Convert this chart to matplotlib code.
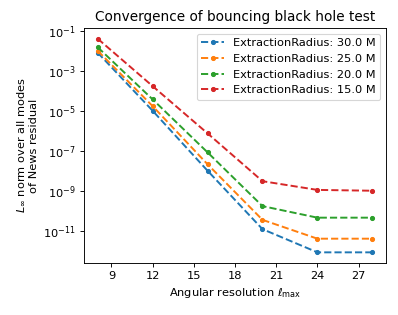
import matplotlib
matplotlib.use("Agg")
import matplotlib.pyplot as plt

# angular resolution l_max
lmax = [8, 12, 16, 20, 24, 28]

radii = [30.0, 25.0, 20.0, 15.0]
residual_30 = [8.0e-3, 1.0e-5, 1.0e-8, 1.2e-11, 8.3e-13, 8.3e-13]
residual_25 = [1.0e-2, 1.7e-5, 2.1e-8, 3.5e-11, 4.0e-12, 4.0e-12]
residual_20 = [1.5e-2, 3.7e-5, 8.3e-8, 1.7e-10, 4.5e-11, 4.5e-11]
residual_15 = [4.0e-2, 1.7e-4, 7.4e-7, 3.0e-9, 1.1e-9, 1.0e-9]
residuals = [residual_30, residual_25, residual_20, residual_15]

xtick_vals = [9, 12, 15, 18, 21, 24, 27]

dpi = 82
fig = plt.figure(figsize=(398 / dpi, 315 / dpi), dpi=dpi)
ax = fig.add_axes([0.211, 0.165, 0.759, 0.746])

for r, res in zip(radii, residuals):
    ax.plot(lmax, res, '.--', lw=1.7, ms=7, label='ExtractionRadius: %.1f M' % r)

ax.set_yscale('log')
ax.set_xticks(xtick_vals)
ax.set_title('Convergence of bouncing black hole test')
ax.set_xlabel(r'Angular resolution $\ell_{\max}$')
ax.set_ylabel('$L_\\infty$ norm over all modes\nof News residual')
ax.legend(loc='upper right')

fig.savefig('out.png', dpi=dpi)
